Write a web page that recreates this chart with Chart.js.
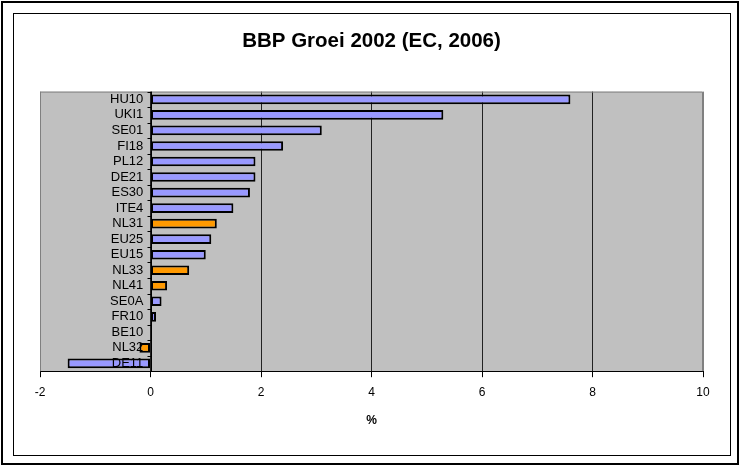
<!DOCTYPE html>
<html>
<head>
<meta charset="utf-8">
<script src="https://cdn.jsdelivr.net/npm/chart.js@4/dist/chart.umd.min.js"></script>
<style>
html,body{margin:0;padding:0;background:#fff;}
#wrap{width:740px;height:466px;position:relative;}
</style>
</head>
<body>
<div id="wrap"><canvas id="c" width="740" height="466"></canvas></div>
<script>
const categories = ['HU10','UKI1','SE01','FI18','PL12','DE21','ES30','ITE4','NL31','EU25','EU15','NL33','NL41','SE0A','FR10','BE10','NL32','DE11'];
const growth = [7.6,5.3,3.1,2.4,1.9,1.9,1.8,1.5,1.2,1.1,1.0,0.7,0.3,0.2,0.1,0,-0.2,-1.5];
const dutchRegions = ['NL31','NL33','NL41','NL32'];
const xTicks = [-2,0,2,4,6,8,10];
const titleText = 'BBP Groei 2002 (EC, 2006)';
const axisTitle = '%';

const FONT = '"Liberation Sans", Arial, sans-serif';

const frame = {
  id: 'frame',
  beforeDraw(chart) {
    const ctx = chart.ctx, a = chart.chartArea;
    ctx.save();
    ctx.fillStyle = '#fff';
    ctx.fillRect(0, 0, chart.width, chart.height);
    ctx.strokeStyle = '#000';
    ctx.lineWidth = 2;
    ctx.strokeRect(2, 2, 736, 462);
    ctx.lineWidth = 1;
    ctx.strokeRect(13.5, 13.5, 717, 442);
    ctx.fillStyle = '#C0C0C0';
    ctx.fillRect(a.left, a.top, a.right - a.left, a.bottom - a.top);
    ctx.restore();
  },
  beforeDatasetsDraw(chart) {
    const ctx = chart.ctx, a = chart.chartArea;
    const xs = chart.scales.x, ys = chart.scales.y;
    ctx.save();
    ctx.strokeStyle = '#808080';
    ctx.lineWidth = 1;
    ctx.beginPath();
    ctx.moveTo(a.left + 0.5, a.bottom);
    ctx.lineTo(a.left + 0.5, a.top + 0.5);
    ctx.lineTo(a.right - 0.5, a.top + 0.5);
    ctx.lineTo(a.right - 0.5, a.bottom);
    ctx.stroke();
    // category axis line at x = 0 with tick marks between categories
    const x0 = Math.round(xs.getPixelForValue(0)) + 0.5;
    ctx.strokeStyle = '#000';
    ctx.beginPath();
    ctx.moveTo(x0, a.top);
    ctx.lineTo(x0, a.bottom);
    const n = categories.length;
    for (let i = 0; i <= n; i++) {
      const y = Math.round(ys.getPixelForValue(i - 0.5)) + 0.5;
      ctx.moveTo(x0 - 4, y);
      ctx.lineTo(x0, y);
    }
    ctx.stroke();
    ctx.restore();
  }
};

new Chart(document.getElementById('c'), {
  type: 'bar',
  data: {
    labels: categories,
    datasets: [{
      data: growth,
      backgroundColor: categories.map(c => dutchRegions.includes(c) ? '#FF9900' : '#9999FF'),
      borderColor: '#000',
      borderWidth: 2,
      borderSkipped: false,
      categoryPercentage: 1,
      barPercentage: 0.62
    }]
  },
  options: {
    indexAxis: 'y',
    responsive: false,
    animation: false,
    devicePixelRatio: 1,
    layout: { padding: { left: 40, right: 37, top: 0, bottom: 38 } },
    plugins: {
      legend: { display: false },
      tooltip: { enabled: false },
      title: {
        display: true,
        text: titleText,
        color: '#000',
        font: { family: FONT, size: 20.5, weight: 'bold' },
        padding: { top: 29, bottom: 38 }
      }
    },
    scales: {
      x: {
        type: 'linear',
        min: -2,
        max: 10,
        afterBuildTicks: s => { s.ticks = xTicks.map(v => ({ value: v })); },
        ticks: {
          color: '#000',
          font: { family: FONT, size: 12 },
          padding: 8
        },
        grid: {
          color: ctx => (ctx.tick && (ctx.tick.value === -2 || ctx.tick.value === 10)) ? '#808080' : '#222',
          lineWidth: 1,
          drawTicks: true,
          tickLength: 6,
          tickColor: '#000'
        },
        border: { display: true, color: '#000', width: 1 },
        title: {
          display: true,
          text: axisTitle,
          color: '#000',
          font: { family: FONT, size: 12, weight: 'bold' },
          padding: { top: 6, bottom: 0 }
        }
      },
      y: {
        type: 'category',
        position: { x: -0.13 },
        ticks: {
          color: '#000',
          font: { family: FONT, size: 13 },
          padding: 0,
          autoSkip: false,
          z: 1
        },
        grid: { display: false, drawTicks: false },
        border: { display: false }
      }
    }
  },
  plugins: [frame]
});
</script>
</body>
</html>
